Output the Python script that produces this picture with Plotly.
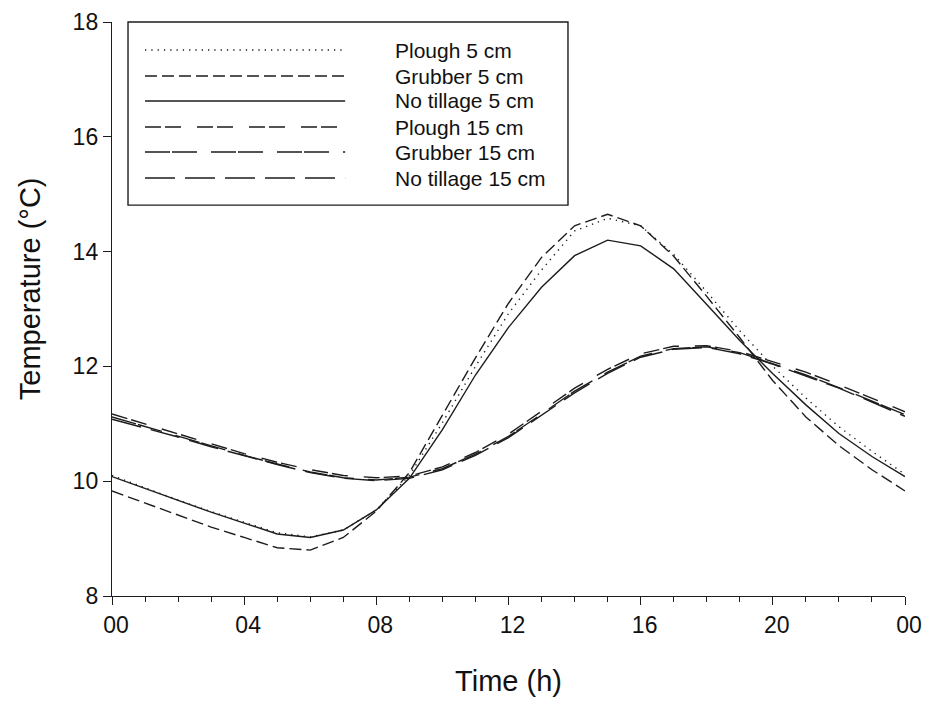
import plotly.graph_objects as go

hours = list(range(25))
tick_vals = [0, 4, 8, 12, 16, 20, 24]
tick_text = ["00", "04", "08", "12", "16", "20", "00"]

plough_5 = [10.10, 9.88, 9.67, 9.47, 9.28, 9.10, 9.03, 9.15, 9.50, 10.10, 11.02, 12.00, 12.92, 13.68, 14.36, 14.58, 14.45, 13.95, 13.30, 12.62, 12.00, 11.45, 10.95, 10.52, 10.12]
grubber_5 = [9.83, 9.62, 9.40, 9.20, 9.02, 8.84, 8.80, 9.02, 9.48, 10.15, 11.15, 12.15, 13.10, 13.90, 14.45, 14.65, 14.45, 13.92, 13.22, 12.50, 11.75, 11.12, 10.62, 10.20, 9.83]
notill_5 = [10.08, 9.87, 9.66, 9.46, 9.27, 9.08, 9.02, 9.15, 9.50, 10.05, 10.90, 11.85, 12.68, 13.38, 13.93, 14.20, 14.10, 13.70, 13.08, 12.45, 11.87, 11.33, 10.83, 10.43, 10.08]
plough_15 = [11.17, 11.00, 10.82, 10.65, 10.48, 10.33, 10.20, 10.10, 10.06, 10.09, 10.25, 10.50, 10.82, 11.22, 11.62, 11.95, 12.22, 12.35, 12.36, 12.26, 12.08, 11.90, 11.68, 11.45, 11.21]
grubber_15 = [11.12, 10.95, 10.78, 10.61, 10.45, 10.30, 10.16, 10.06, 10.02, 10.07, 10.22, 10.47, 10.78, 11.17, 11.57, 11.90, 12.18, 12.31, 12.34, 12.24, 12.05, 11.85, 11.63, 11.40, 11.16]
notill_15 = [11.08, 10.93, 10.77, 10.60, 10.44, 10.29, 10.15, 10.05, 10.01, 10.05, 10.20, 10.45, 10.76, 11.15, 11.54, 11.88, 12.16, 12.30, 12.33, 12.22, 12.04, 11.83, 11.62, 11.38, 11.13]

names = ["Plough 5 cm", "Grubber 5 cm", "No tillage 5 cm", "Plough 15 cm", "Grubber 15 cm", "No tillage 15 cm"]
series = [plough_5, grubber_5, notill_5, plough_15, grubber_15, notill_15]
dashes = ["1.3px,5px", "12px,5px", "solid", "16px,4px,16px,16px", "25px,2px,25px,14px", "30px,10px"]

LINE = "#1c1c1c"
FONT = "Liberation Sans, Arial, sans-serif"

fig = go.Figure()
for name, vals, dash in zip(names, series, dashes):
    fig.add_trace(go.Scatter(x=hours, y=vals, mode="lines", name=name,
                             line=dict(color=LINE, width=1.4, dash=dash),
                             showlegend=False))

# custom legend box (long line samples like the original)
shapes = [dict(type="rect", xref="paper", yref="paper", x0=0.0202, x1=0.575, y0=0.681, y1=1.0,
               line=dict(color=LINE, width=1.4), fillcolor="rgba(0,0,0,0)")]
annotations = []
row_y = [50, 76, 101, 127, 152, 178]
for name, dash, py in zip(names, dashes, row_y):
    yp = (596 - py) / 574
    shapes.append(dict(type="line", xref="paper", yref="paper", x0=0.0416, x1=0.294, y0=yp, y1=yp,
                       line=dict(color=LINE, width=1.4, dash=dash)))
    annotations.append(dict(xref="paper", yref="paper", x=0.354, y=yp, text=name, showarrow=False,
                            xanchor="left", yanchor="middle", font=dict(family=FONT, size=21, color="#111")))

# y-axis title (placed slightly above the plot centre, as in the original)
annotations.append(dict(xref="paper", yref="paper", x=-0.103, y=0.535, text="Temperature (°C)",
                        textangle=-90, showarrow=False, xanchor="center", yanchor="middle",
                        font=dict(family=FONT, size=29, color="#111")))

fig.update_layout(
    width=914, height=689,
    margin=dict(l=104, r=17, t=14, b=101),
    paper_bgcolor="white", plot_bgcolor="white",
    font=dict(family=FONT, color="#111"),
    shapes=shapes, annotations=annotations,
)
fig.update_xaxes(range=[0, 24], tickvals=tick_vals, ticktext=tick_text, automargin=False,
                 showline=True, linecolor=LINE, linewidth=1.4, mirror=False,
                 ticks="outside", ticklen=8, tickwidth=1.4, tickcolor=LINE,
                 minor=dict(dtick=1, tick0=0, ticks="outside", ticklen=5, tickwidth=1.4, tickcolor=LINE),
                 showgrid=False, zeroline=False, ticklabelshift=4, ticklabeloverflow="allow",
                 tickfont=dict(size=23, family=FONT),
                 title=dict(text="Time (h)", font=dict(size=29, family=FONT), standoff=35))
fig.update_yaxes(range=[8, 18], tickvals=[8, 10, 12, 14, 16, 18], automargin=False,
                 showline=True, linecolor=LINE, linewidth=1.4, mirror=False,
                 ticks="outside", ticklen=8, tickwidth=1.4, tickcolor=LINE,
                 showgrid=False, zeroline=False,
                 tickfont=dict(size=23, family=FONT))

fig.write_html("out.html")
